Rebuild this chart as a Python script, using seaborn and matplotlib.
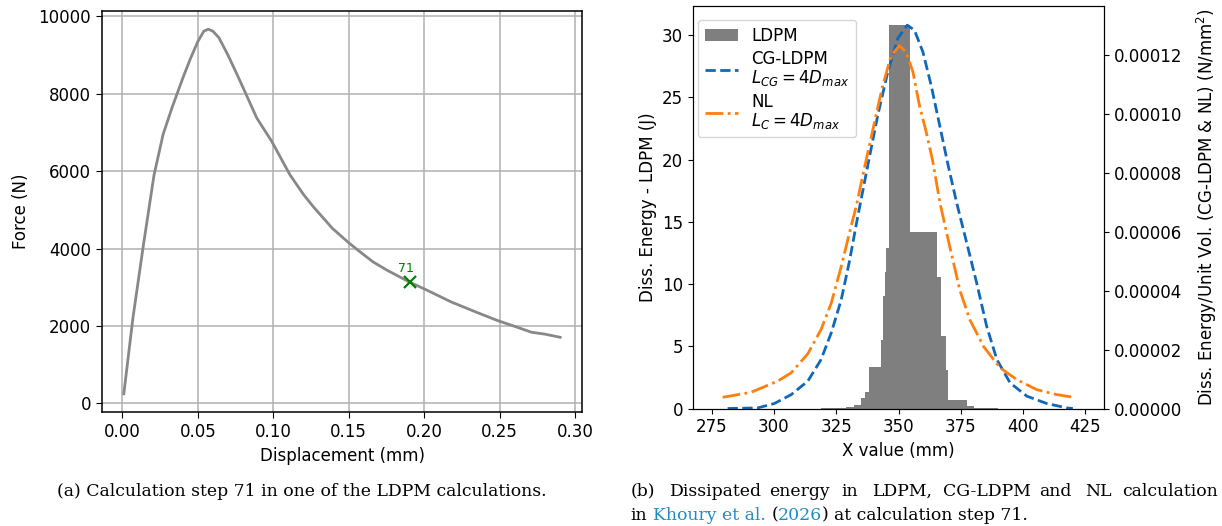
import numpy as np
import pandas as pd
import matplotlib
matplotlib.use("Agg")
import matplotlib.pyplot as plt
import seaborn as sns
from matplotlib.patches import Patch
from matplotlib.lines import Line2D

# ---------------- data: (a) force-displacement ----------------
disp = [0.001, 0.007, 0.014, 0.021, 0.027, 0.033, 0.040, 0.045, 0.050, 0.054,
        0.057, 0.060, 0.064, 0.070, 0.076, 0.083, 0.089, 0.099, 0.111, 0.120,
        0.127, 0.139, 0.150, 0.158, 0.166, 0.175, 0.190, 0.200, 0.218, 0.235,
        0.248, 0.260, 0.271, 0.280, 0.290]
force = [250, 2200, 4100, 5900, 6950, 7650, 8400, 8900, 9350, 9620,
         9670, 9620, 9450, 9000, 8500, 7900, 7380, 6770, 5910, 5400,
         5060, 4530, 4150, 3900, 3660, 3450, 3140, 2960, 2620, 2350,
         2150, 1990, 1840, 1790, 1710]
step_disp = 0.1905
step_force = 3140
step_label = "71"

# ---------------- data: (b) dissipated energy ----------------
hist_edges = [275, 319, 329, 332, 335, 336.4, 338.1, 342.8, 343.7, 344.4,
              345.1, 346.3, 354.7, 365.5, 367.1, 369.1, 369.8, 377.6, 380.3,
              390, 425]
hist_energy = [0.0, 0.06, 0.15, 0.28, 0.85, 1.3, 3.3, 5.5, 9.0, 11.0,
               12.9, 30.8, 14.2, 10.6, 5.8, 3.1, 0.7, 0.23, 0.03, 0.0]

cg_x = [281.4, 293.5, 300.2, 306.9, 313.6, 318.9, 323.0, 327.0, 330.3, 333.6,
        337.7, 341.7, 345.7, 349.7, 353.5, 356.4, 359.8, 363.1, 366.5, 369.9,
        373.4, 377.4, 381.4, 385.4, 389.5, 394.8, 401.5, 409.5, 417.6, 420.0]
cg_y = [0.0, 0.2e-6, 1.7e-6, 4.7e-6, 9.3e-6, 1.66e-5, 2.57e-5, 3.69e-5, 5.0e-5, 6.5e-5,
        8.27e-5, 9.97e-5, 1.143e-4, 1.257e-4, 1.302e-4, 1.285e-4, 1.211e-4, 1.098e-4, 9.63e-5, 8.27e-5,
        6.97e-5, 5.62e-5, 4.26e-5, 2.79e-5, 1.66e-5, 8.7e-6, 4.2e-6, 1.7e-6, 0.2e-6, 0.0]

nl_x = [279.4, 290.8, 301.5, 306.9, 313.6, 318.9, 323.0, 327.0, 330.3, 333.0,
        336.3, 340.4, 343.7, 347.1, 350.4, 353.1, 355.8, 358.4, 361.1, 363.8,
        366.6, 370.7, 374.7, 378.7, 382.1, 384.1, 390.8, 397.5, 405.5, 413.6,
        420.3]
nl_y = [3.8e-6, 5.5e-6, 9.3e-6, 1.21e-5, 1.86e-5, 2.68e-5, 3.58e-5, 4.82e-5, 5.96e-5, 6.86e-5,
        8.16e-5, 9.74e-5, 1.098e-4, 1.2e-4, 1.232e-4, 1.21e-4, 1.143e-4, 1.03e-4, 9.4e-5, 8.38e-5,
        7.0e-5, 5.45e-5, 4.0e-5, 3.0e-5, 2.45e-5, 2.11e-5, 1.38e-5, 9.8e-6, 6.4e-6, 4.7e-6,
        3.8e-6]

# ---------------- figure ----------------
W, H = 1222, 526
fig = plt.figure(figsize=(W / 100, H / 100), dpi=100)
plt.rcParams["font.family"] = ["DejaVu Sans"]
FS = 12


def px_box(x0, y0, x1, y1):
    return [x0 / W, 1 - y1 / H, (x1 - x0) / W, (y1 - y0) / H]


# ----- panel (a)
ax1 = fig.add_axes(px_box(102, 11, 582, 412))
sns.lineplot(x=disp, y=force, ax=ax1, color="#888888", lw=2, sort=False)
ax1.plot([step_disp], [step_force], "x", color="green", ms=9, mew=1.6)
ax1.annotate(step_label, (step_disp, step_force), xytext=(-3, 5),
             textcoords="offset points", ha="center", va="bottom",
             color="green", fontsize=9)
ax1.grid(True, color="#b0b0b0", lw=1.1)
ax1.set_axisbelow(True)
ax1.set_xlabel("Displacement (mm)", fontsize=FS)
ax1.set_ylabel("Force (N)", fontsize=FS, labelpad=6)
ax1.tick_params(labelsize=FS, length=4.5)
for s in ax1.spines.values():
    s.set_linewidth(1.1)

# ----- panel (b)
ax2 = fig.add_axes(px_box(693, 6, 1104, 408.5))
edges = np.array(hist_edges, dtype=float)
hist_df = pd.DataFrame({"center": (edges[:-1] + edges[1:]) / 2,
                        "energy": hist_energy})
sns.histplot(data=hist_df, x="center", weights="energy", bins=list(edges),
             ax=ax2, color="#7f7f7f", alpha=1, edgecolor="none", linewidth=0)
ax2.set_xlim(267.5, 432.5)
ax2.set_ylim(0, max(hist_energy) * 1.05)
ax2.set_xticks([275, 300, 325, 350, 375, 400, 425])
ax2.set_xlabel("X value (mm)", fontsize=FS)
ax2.set_ylabel("Diss. Energy - LDPM (J)", fontsize=FS)
ax2.tick_params(labelsize=FS)

ax3 = ax2.twinx()
blue = "#1167b8"
orange = "#ff7f0e"
sns.lineplot(x=cg_x, y=cg_y, ax=ax3, color=blue, lw=2, linestyle="--")
sns.lineplot(x=nl_x, y=nl_y, ax=ax3, color=orange, lw=2, linestyle="-.")
ax3.set_ylim(0, max(cg_y) * 1.05)
ax3.set_ylabel("Diss. Energy/Unit Vol. (CG-LDPM & NL) (N/mm$^2$)",
               fontsize=FS, labelpad=9)
ax3.tick_params(labelsize=FS)
if ax3.get_legend() is not None:
    ax3.get_legend().remove()

handles = [Patch(facecolor="#7f7f7f", edgecolor="none"),
           Line2D([], [], color=blue, lw=2, linestyle="--"),
           Line2D([], [], color=orange, lw=2, linestyle="-.")]
labels = ["LDPM",
          "CG-LDPM\n$L_{CG} = 4D_{max}$",
          "NL\n$L_C = 4D_{max}$"]
leg = ax3.legend(handles, labels, loc="upper left", fontsize=FS,
                 bbox_to_anchor=((698 - 693) / 411, 1 - (20 - 6) / 402.5),
                 borderaxespad=0, framealpha=0.8, labelspacing=0.3)
for t in leg.get_texts():
    t.set_linespacing(1.0)

# ----- captions
serif = "DejaVu Serif"
CFS = 12.4
fig.text(302 / W, 1 - 491 / H,
         "(a) Calculation step 71 in one of the LDPM calculations.",
         ha="center", va="center", fontsize=CFS, family=serif)

words_b = ["(b)", "Dissipated", "energy", "in", "LDPM,", "CG-LDPM", "and", "NL", "calculation"]
word_x = [630.7, 669, 769.4, 841, 872, 943, 1039.5, 1084.8, 1122]
for w_, x_ in zip(words_b, word_x):
    fig.text(x_ / W, 1 - 491 / H, w_, ha="left", va="center",
             fontsize=CFS, family=serif)

renderer = fig.canvas.get_renderer()
link = "#1f8cc2"
space = 0.318 * CFS * 100 / 72
line2 = [("in", "black", space), ("Khoury et al.", link, space),
         ("(", "black", 0), ("2026", link, 0), (")", "black", space),
         ("at calculation step 71.", "black", 0)]
xpos = 630.7
for t_, c_, gap in line2:
    tt = fig.text(xpos / W, 1 - 515 / H, t_, ha="left", va="center",
                  fontsize=CFS, family=serif, color=c_)
    bb = tt.get_window_extent(renderer)
    xpos = bb.x1 + gap

fig.savefig("out.png", dpi=100)
